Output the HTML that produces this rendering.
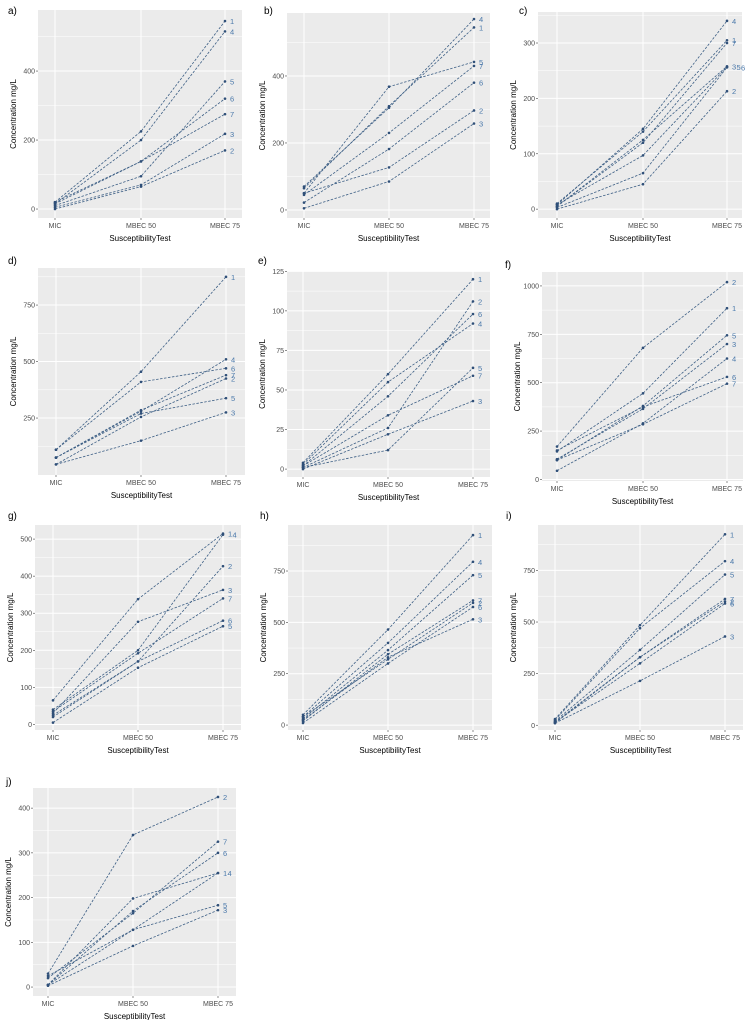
<!DOCTYPE html>
<html><head><meta charset="utf-8">
<style>
html,body{margin:0;padding:0;background:#fff;}
svg{display:block;font-family:"Liberation Sans",Arial,sans-serif;}
</style></head>
<body>
<svg id="fig" width="745" height="1020" viewBox="0 0 745 1020" xmlns="http://www.w3.org/2000/svg"></svg>
<script>
const categories = ["MIC","MBEC 50","MBEC 75"];

const aLabels = ["1","4","5","6","7","3","2"];
const aValues = [[20,225,545],[15,200,515],[10,95,370],[15,138,320],[20,138,275],[5,70,218],[0,65,170]];
const aTicks = [0,200,400];

const bLabels = ["4","1","5","7","6","2","3"];
const bValues = [[70,305,570],[65,310,545],[50,368,442],[45,230,430],[22,182,380],[50,127,297],[5,85,258]];
const bTicks = [0,200,400];

const cLabels = ["4","1","7","3","5","6","2"];
const cValues = [[8,145,340],[10,140,305],[5,120,300],[5,125,258],[8,97,257],[3,65,256],[0,45,213]];
const cTicks = [0,100,200,300];

const dLabels = ["1","4","6","7","2","5","3"];
const dValues = [[110,455,875],[75,280,510],[110,410,470],[75,285,440],[45,255,425],[75,270,338],[45,150,275]];
const dTicks = [250,500,750];

const eLabels = ["1","2","6","4","5","7","3"];
const eValues = [[4,60,120],[1,26,106],[2,46,98],[3,55,92],[1,12,64],[2,34,59],[0,22,43]];
const eTicks = [0,25,50,75,100,125];

const fLabels = ["2","1","5","3","4","6","7"];
const fValues = [[170,680,1020],[145,445,885],[100,380,745],[105,365,700],[45,290,625],[150,375,530],[100,285,495]];
const fTicks = [0,250,500,750,1000];

const gLabels = ["1","4","2","3","7","5","6"];
const gValues = [[65,338,515],[40,200,512],[20,170,427],[30,277,363],[35,192,340],[5,153,265],[25,170,280]];
const gTicks = [0,100,200,300,400,500];

const hLabels = ["1","4","5","7","2","6","3"];
const hValues = [[50,465,925],[40,400,795],[30,365,730],[20,345,607],[40,320,595],[10,300,575],[25,330,515]];
const hTicks = [0,250,500,750];

const iLabels = ["1","4","5","7","2","6","3"];
const iValues = [[30,485,925],[25,470,795],[20,365,730],[15,330,612],[10,330,600],[15,300,590],[10,215,430]];
const iTicks = [0,250,500,750];

const jLabels = ["2","7","6","1","4","5","3"];
const jValues = [[30,340,425],[20,165,325],[5,170,300],[5,198,255],[25,128,255],[5,128,183],[3,92,172]];
const jTicks = [0,100,200,300,400];

const NS="http://www.w3.org/2000/svg";
const svg=document.getElementById('fig');
function mk(tag,attrs,parent){const e=document.createElementNS(NS,tag);for(const k in attrs)e.setAttribute(k,attrs[k]);(parent||svg).appendChild(e);return e;}

const panels=[
 {id:"a",lx:8,ly:14,x0:38,x1:242,y0:10,y1:218,ymin:-26,ymax:577,cx:[55,141,225],labels:aLabels,values:aValues,ticks:aTicks},
 {id:"b",lx:264,ly:14,x0:287,x1:490,y0:13,y1:218,ymin:-24,ymax:588,cx:[304,389,474],labels:bLabels,values:bValues,ticks:bTicks},
 {id:"c",lx:519,ly:14,x0:538,x1:742,y0:12,y1:218,ymin:-16,ymax:356,cx:[557,643,727],labels:cLabels,values:cValues,ticks:cTicks},
 {id:"d",lx:8,ly:264,x0:38,x1:245,y0:268,y1:475,ymin:-2,ymax:914,cx:[56,141,226],labels:dLabels,values:dValues,ticks:dTicks},
 {id:"e",lx:258,ly:264,x0:287,x1:490,y0:271,y1:477,ymin:-5,ymax:125.2,cx:[303,388,473],labels:eLabels,values:eValues,ticks:eTicks},
 {id:"f",lx:505,ly:268,x0:542,x1:743,y0:272,y1:481,ymin:-8,ymax:1072,cx:[557,643,727],labels:fLabels,values:fValues,ticks:fTicks},
 {id:"g",lx:8,ly:519,x0:35,x1:241,y0:525,y1:730,ymin:-15,ymax:538,cx:[53,138,223],labels:gLabels,values:gValues,ticks:gTicks},
 {id:"h",lx:260,ly:519,x0:288,x1:492,y0:525,y1:730,ymin:-24,ymax:974,cx:[303,388,473],labels:hLabels,values:hValues,ticks:hTicks},
 {id:"i",lx:506,ly:519,x0:538,x1:743,y0:525,y1:730,ymin:-23,ymax:970,cx:[555,640,725],labels:iLabels,values:iValues,ticks:iTicks},
 {id:"j",lx:6,ly:785,x0:33,x1:236,y0:788,y1:996,ymin:-20,ymax:445,cx:[48,133,218],labels:jLabels,values:jValues,ticks:jTicks}
];

panels.forEach(p=>{
  const g=mk('g',{});
  
  
  const ys=v=>p.y1-(v-p.ymin)/(p.ymax-p.ymin)*(p.y1-p.y0);
  const lt=mk('text',{x:p.lx,y:p.ly,'font-size':10,fill:'#000'},g);lt.textContent=p.id+')';
  
  
  const bg=mk('rect',{x:p.x0,y:p.y0,width:p.x1-p.x0,height:p.y1-p.y0,fill:'#EBEBEB'},g);
  
  
  const step=p.ticks[1]-p.ticks[0];
  for(let v=p.ticks[0]-step/2; v<=p.ymax; v+=step){
    if(v<p.ymin) continue;
    mk('line',{x1:p.x0,x2:p.x1,y1:ys(v),y2:ys(v),stroke:'#fff','stroke-width':0.5},g);
  }
  p.ticks.forEach(t=>{
    const y=ys(t);
    const gl=mk('line',{x1:p.x0,x2:p.x1,y1:y,y2:y,stroke:'#fff','stroke-width':1},g);
    
    
    mk('line',{x1:p.x0-2,x2:p.x0,y1:y,y2:y,stroke:'#444','stroke-width':0.6},g);
    const tl=mk('text',{x:p.x0-3,y:y+2.5,'font-size':7,fill:'#4d4d4d','text-anchor':'end'},g);
    tl.textContent=t;
    
    
  });
  categories.forEach((c,i)=>{
    const x=p.cx[i];
    mk('line',{x1:x,x2:x,y1:p.y0,y2:p.y1,stroke:'#fff','stroke-width':1},g);
    mk('line',{x1:x,x2:x,y1:p.y1,y2:p.y1+2,stroke:'#444','stroke-width':0.6},g);
    const xl=mk('text',{x:x,y:p.y1+10,'font-size':7,fill:'#4d4d4d','text-anchor':'middle'},g);
    xl.textContent=c;
    
    
  });
  const xt=mk('text',{x:(p.x0+p.x1)/2,y:p.y1+23,'font-size':8,fill:'#000','text-anchor':'middle'},g);
  xt.textContent='SusceptibilityTest';
  
  
  const ycx=p.x0-22, ycy=(p.y0+p.y1)/2;
  const yt=mk('text',{x:ycx,y:ycy,'font-size':8,fill:'#000','text-anchor':'middle',transform:`rotate(-90 ${ycx} ${ycy})`},g);
  yt.textContent='Concentration mg/L';
  
  
  const placed=[];
  p.values.forEach((vals,si)=>{
    const pts=vals.map((v,i)=>p.cx[i]+','+ys(v)).join(' ');
    const pl=mk('polyline',{points:pts,fill:'none',stroke:'#3d5f85','stroke-width':0.8,'stroke-dasharray':'2.5,1.5'},g);
    
    
    vals.forEach((v,i)=>{
      const c=mk('circle',{cx:p.cx[i],cy:ys(v),r:1.3,fill:'#2f4f78'},g);
      
      
    });
    const ly=ys(vals[2])+3;
    let dx=5;
    placed.forEach(q=>{ if(Math.abs(q.y-ly)<1.5 && q.dx>=dx) dx=q.dx+4.5; });
    placed.push({y:ly,dx:dx});
    const lb=mk('text',{x:p.cx[2]+dx,y:ly,'font-size':7.5,fill:'#4a78aa'},g);
    lb.textContent=p.labels[si];
    
    
  });
});
</script>
</body></html>
